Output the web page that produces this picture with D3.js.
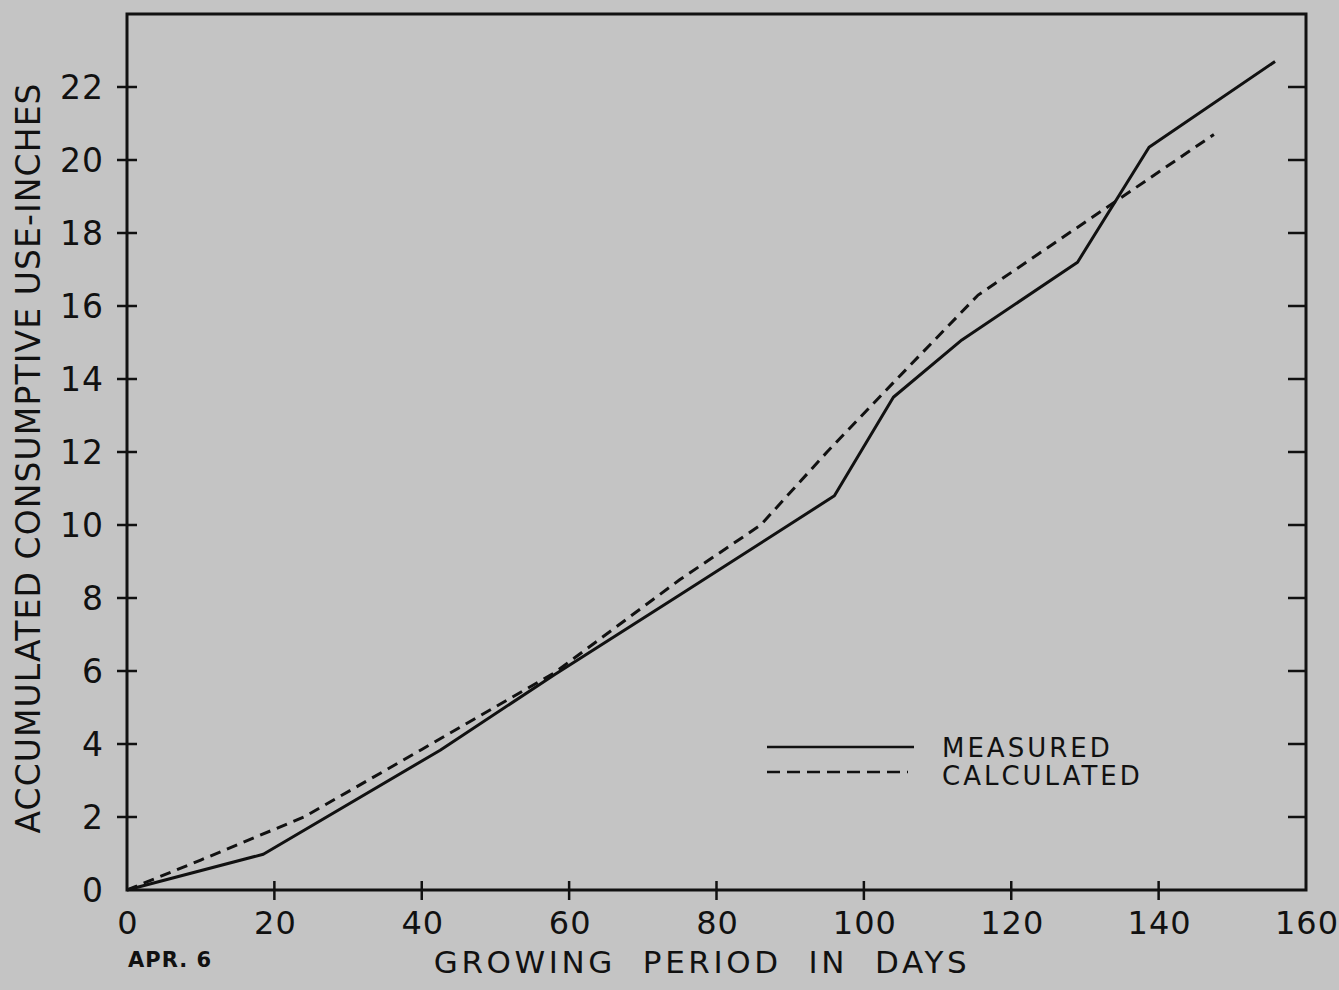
<!DOCTYPE html>
<html>
<head>
<meta charset="utf-8">
<script src="https://cdn.jsdelivr.net/npm/d3@7"></script>
<style>
  html, body { margin: 0; padding: 0; background: #c4c4c4; }
  svg { display: block; }
  text { font-family: "DejaVu Sans", sans-serif; fill: #111; }
</style>
</head>
<body>
<svg id="chart" width="1339" height="990"></svg>
<script>
// ---- data ----
const measuredDays   = [0, 18.5, 42.5, 58, 75, 96, 104, 113.3, 129, 138.7, 155.8];
const measuredInches = [0, 0.98, 3.83, 5.9, 8.08, 10.8, 13.5, 15.07, 17.2, 20.35, 22.7];
const calculatedDays   = [0, 10, 24, 40, 58, 75, 86, 95, 104, 115.5, 147.5];
const calculatedInches = [0, 0.82, 2.0, 3.85, 5.95, 8.5, 10.0, 12.0, 13.9, 16.3, 20.7];
const xTicks = [0, 20, 40, 60, 80, 100, 120, 140, 160];
const yTicks = [0, 2, 4, 6, 8, 10, 12, 14, 16, 18, 20, 22];
const seriesNames = ["MEASURED", "CALCULATED"];
const xTitle = "GROWING  PERIOD  IN  DAYS";
const yTitle = "ACCUMULATED CONSUMPTIVE USE-INCHES";
const startLabel = "APR. 6";

const svg = d3.select("#chart");
const L = 127, R = 1306, T = 14, B = 890;
const x = d3.scaleLinear().domain([0, 160]).range([L, R]);
const y = d3.scaleLinear().domain([0, 24]).range([B, T]);
const ink = "#111";

// frame
svg.append("rect").attr("x", L).attr("y", T).attr("width", R - L).attr("height", B - T)
  .attr("fill", "none").attr("stroke", ink).attr("stroke-width", 3);

// left axis ticks (crossing)
svg.append("g").selectAll("line").data(yTicks.filter(d => d > 0)).join("line")
  .attr("x1", L - 10).attr("x2", L + 10).attr("y1", d => y(d)).attr("y2", d => y(d))
  .attr("stroke", ink).attr("stroke-width", 2.5);
// right axis ticks (inward)
svg.append("g").selectAll("line").data(yTicks.filter(d => d > 0)).join("line")
  .attr("x1", R - 18).attr("x2", R).attr("y1", d => y(d)).attr("y2", d => y(d))
  .attr("stroke", ink).attr("stroke-width", 2.5);
// bottom ticks (crossing)
svg.append("g").selectAll("line").data(xTicks.filter(d => d > 0 && d < 160)).join("line")
  .attr("x1", d => x(d)).attr("x2", d => x(d)).attr("y1", B - 9).attr("y2", B + 10)
  .attr("stroke", ink).attr("stroke-width", 2.5);

// y tick labels
svg.append("g").selectAll("text").data(yTicks).join("text")
  .attr("x", 104).attr("y", d => y(d)).attr("dy", "0.36em")
  .attr("text-anchor", "end").attr("font-size", 33).attr("letter-spacing", 1)
  .text(d => d);
// x tick labels
svg.append("g").selectAll("text").data(xTicks).join("text")
  .attr("x", d => x(d) + 1).attr("y", 934)
  .attr("text-anchor", "middle").attr("font-size", 32).attr("letter-spacing", 1)
  .text(d => d);

// axis titles
svg.append("text").attr("transform", `translate(40, 458) rotate(-90)`)
  .attr("text-anchor", "middle").attr("font-size", 33).attr("letter-spacing", 1.1)
  .text(yTitle);
svg.append("text").attr("x", 702).attr("y", 973)
  .attr("text-anchor", "middle").attr("font-size", 31).attr("letter-spacing", 3.6)
  .attr("xml:space", "preserve").style("white-space", "pre")
  .text(xTitle);
svg.append("text").attr("x", 128).attr("y", 967)
  .attr("font-size", 21).attr("font-weight", "bold").attr("letter-spacing", 1)
  .text(startLabel);

// lines
const line = d3.line().x(d => x(d[0])).y(d => y(d[1]));
const measured = measuredDays.map((d, i) => [d, measuredInches[i]]);
const calculated = calculatedDays.map((d, i) => [d, calculatedInches[i]]);
svg.append("path").datum(measured).attr("d", line)
  .attr("fill", "none").attr("stroke", ink).attr("stroke-width", 3).attr("stroke-linejoin", "round");
svg.append("path").datum(calculated).attr("d", line)
  .attr("fill", "none").attr("stroke", ink).attr("stroke-width", 3).attr("stroke-dasharray", "11,7");

// legend
const leg = svg.append("g");
leg.append("line").attr("x1", 767).attr("x2", 914).attr("y1", 747).attr("y2", 747)
  .attr("stroke", ink).attr("stroke-width", 2.5);
leg.append("line").attr("x1", 767).attr("x2", 908).attr("y1", 772).attr("y2", 772)
  .attr("stroke", ink).attr("stroke-width", 2.5).attr("stroke-dasharray", "13,7");
leg.selectAll("text").data(seriesNames).join("text")
  .attr("x", 942).attr("y", (d, i) => 757 + i * 28)
  .attr("font-size", 26).attr("letter-spacing", 3)
  .text(d => d);
</script>
</body>
</html>
